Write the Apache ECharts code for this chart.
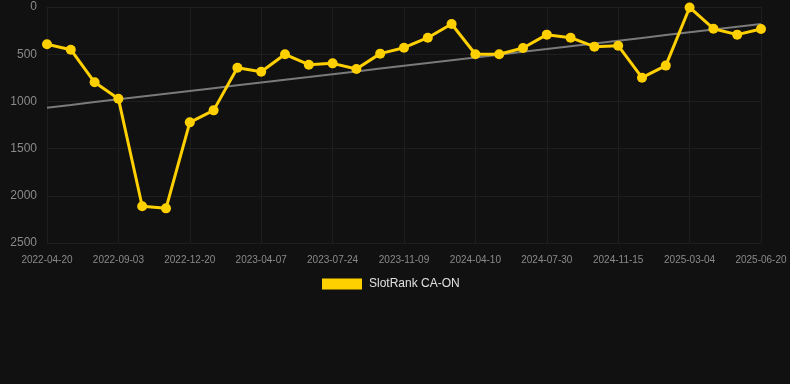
<!DOCTYPE html>
<html>
<head>
<meta charset="utf-8">
<style>
  html, body { margin: 0; padding: 0; background: #111111; }
  #chart { width: 790px; height: 384px; }
</style>
<script src="https://cdn.jsdelivr.net/npm/echarts@6/dist/echarts.min.js"></script>
</head>
<body>
<div id="chart"></div>
<script>
// dates (only every third one is printed on the axis)
var dates = [
  '2022-04-20', '2022-06-04', '2022-07-19', '2022-09-03', '2022-10-09', '2022-11-14',
  '2022-12-20', '2023-01-25', '2023-03-02', '2023-04-07', '2023-05-13', '2023-06-18',
  '2023-07-24', '2023-08-29', '2023-10-04', '2023-11-09', '2023-12-30', '2024-02-19',
  '2024-04-10', '2024-05-17', '2024-06-23', '2024-07-30', '2024-09-05', '2024-10-10',
  '2024-11-15', '2024-12-21', '2025-01-27', '2025-03-04', '2025-04-09', '2025-05-15',
  '2025-06-20'
];
var ranks = [
  395, 452, 798, 971, 2111, 2133, 1222, 1095, 643, 685, 501,
  611, 597, 657, 494, 431, 325, 180, 501, 501, 434,
  293, 325, 420, 410, 749, 621, 5, 230, 293, 233
];
var seriesName = 'SlotRank CA-ON';
var yTicks = [0, 500, 1000, 1500, 2000, 2500];

// least squares trend over the index
var n = ranks.length, sx = 0, sy = 0, sxy = 0, sxx = 0;
for (var i = 0; i < n; i++) {
  sx += i; sy += ranks[i]; sxy += i * ranks[i]; sxx += i * i;
}
var slope = (n * sxy - sx * sy) / (n * sxx - sx * sx);
var icpt = (sy - slope * sx) / n;
var trend = [];
for (var j = 0; j < n; j++) trend.push(+(icpt + slope * j).toFixed(1));

var gridColor = '#1e1e1e';
var option = {
  backgroundColor: '#111111',
  animation: false,
  textStyle: { fontFamily: 'Liberation Sans, Arial, sans-serif' },
  grid: { left: 47, right: 29, top: 7, bottom: 141, containLabel: false },
  legend: {
    data: [seriesName],
    left: 322,
    top: 278,
    padding: 0,
    icon: 'rect',
    itemWidth: 40,
    itemHeight: 11,
    textStyle: { color: '#e0e0e0', fontSize: 12, padding: [0, 0, 0, 2] }
  },
  xAxis: {
    type: 'category',
    data: dates,
    boundaryGap: false,
    axisLine: { show: true, lineStyle: { color: gridColor } },
    axisTick: { show: true, interval: 2, length: 4, lineStyle: { color: gridColor } },
    axisLabel: { interval: 2, color: '#8a8a8a', fontSize: 10, margin: 12 },
    splitLine: { show: true, interval: 2, lineStyle: { color: gridColor } }
  },
  yAxis: {
    type: 'value',
    inverse: true,
    min: yTicks[0],
    max: yTicks[yTicks.length - 1],
    interval: 500,
    axisLine: { show: false },
    axisTick: { show: false },
    axisLabel: {
      color: '#8a8a8a', fontSize: 12, margin: 10,
      formatter: function (v) { return String(v); }
    },
    splitLine: { show: true, lineStyle: { color: gridColor } }
  },
  series: [
    {
      name: 'trend',
      type: 'line',
      data: trend,
      symbol: 'none',
      silent: true,
      lineStyle: { color: '#7a7a7a', width: 2 },
      z: 1
    },
    {
      name: seriesName,
      type: 'line',
      data: ranks,
      symbol: 'circle',
      symbolSize: 10,
      itemStyle: { color: '#ffd000' },
      lineStyle: { color: '#ffd000', width: 3 },
      z: 3
    }
  ]
};

var myChart = echarts.init(document.getElementById('chart'));
myChart.setOption(option);
</script>
</body>
</html>
